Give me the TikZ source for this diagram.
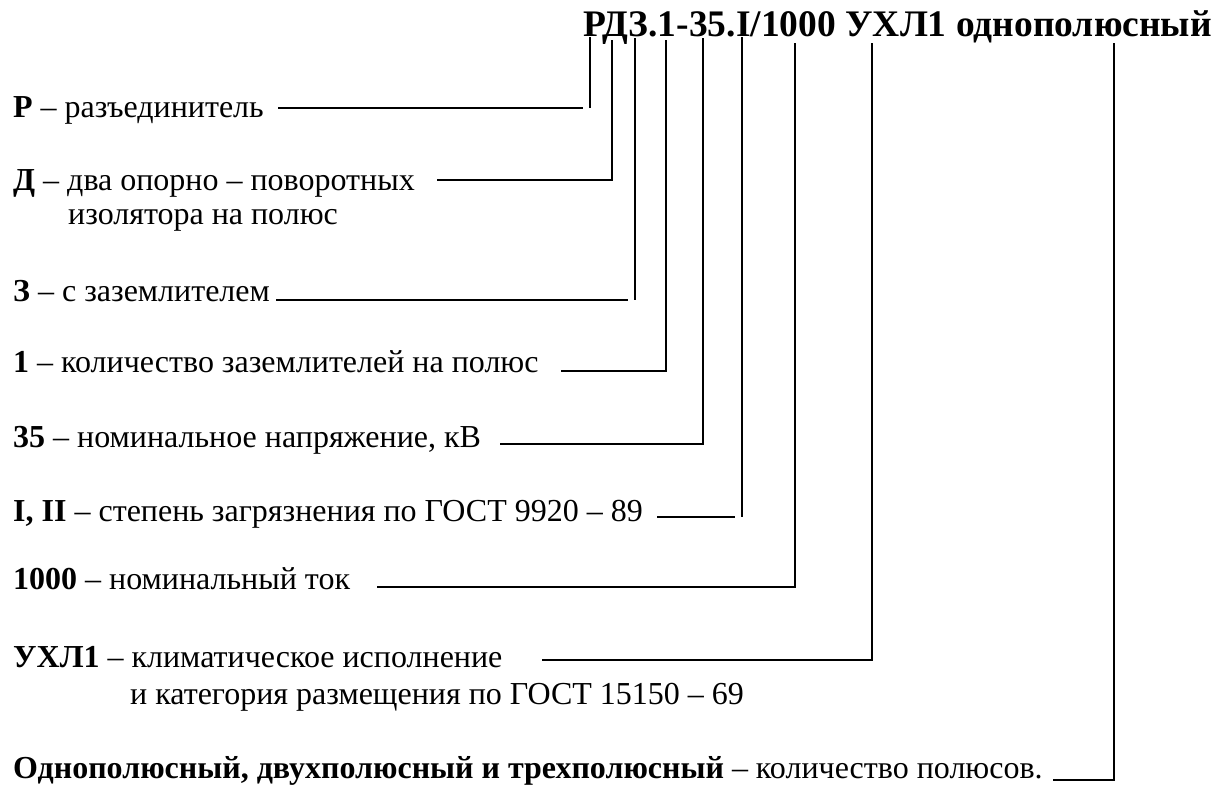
\documentclass[tikz,border=0pt]{standalone}
\usepackage{fontspec}
\setmainfont{Liberation Serif}[Ligatures=TeX]
\newfontfamily\timesfont{Liberation Serif}
\usetikzlibrary{calc}

\tikzset{
  entry/.style={anchor=base west, inner sep=0pt, font=\timesfont\fontsize{32}{34}\selectfont},
  title/.style={anchor=base east, inner sep=0pt, font=\timesfont\fontsize{37.5}{40}\selectfont\bfseries},
  lead/.style={black, line width=1.6pt}
}

\begin{document}
\begin{tikzpicture} [x=1pt, y=-1pt]
\useasboundingbox (0,0) rectangle (1225,787);

\node[title] (code) at (1212,36) {РДЗ.1-35.I/1000 УХЛ1 однополюсный};

\node[entry] (p) at (13,117) {\textbf{Р} – разъединитель};
\node[entry] (d) at (13,190) {\textbf{Д} – два опорно – поворотных};
\node[entry] (d2) at (68,224) {изолятора на полюс};
\node[entry] (z) at (13,301) {\textbf{З} – с заземлителем};
\node[entry] (one) at (13,372) {\textbf{1} – количество заземлителей на полюс};
\node[entry] (kv) at (13,447) {\textbf{35} – номинальное напряжение, кВ};
\node[entry] (gost) at (13,521) {\textbf{I, II} – степень загрязнения по ГОСТ 9920 – 89};
\node[entry] (amp) at (13,589) {\textbf{1000} – номинальный ток};
\node[entry] (uhl) at (13,667) {\textbf{УХЛ1} – климатическое исполнение};
\node[entry] (uhl2) at (130,704) {и категория размещения по ГОСТ 15150 – 69};
\node[entry] (pol) at (13,778) {\textbf{Однополюсный, двухполюсный и трехполюсный} – количество полюсов.};

% feet under the code letters
\coordinate (tP) at (590,37);
\coordinate (tD) at (612,40);
\coordinate (tZ) at (635,38);
\coordinate (tOne) at (666,40);
\coordinate (tKv) at (703,38);
\coordinate (tGost) at (742,37);
\coordinate (tAmp) at (795,43);
\coordinate (tUhl) at (872,43);
\coordinate (tPol) at (1114,43);

% leaders: start and (for the open ones) end
\coordinate (sP) at (278,108);
\coordinate (eP) at (583,108);
\coordinate (sD) at (437,180);
\coordinate (sZ) at (276,300);
\coordinate (eZ) at (628,300);
\coordinate (sOne) at (561,371);
\coordinate (sKv) at (500,444);
\coordinate (sGost) at (657,517);
\coordinate (eGost) at (735,517);
\coordinate (sAmp) at (377,587);
\coordinate (sUhl) at (542,660);
\coordinate (sPol) at (1053,780);

\draw[lead] (sP) -- (eP);
\draw[lead] (tP) -- (tP |- eP);
\draw[lead] (sD) -| (tD);
\draw[lead] (sZ) -- (eZ);
\draw[lead] (tZ) -- (tZ |- eZ);
\draw[lead] (sOne) -| (tOne);
\draw[lead] (sKv) -| (tKv);
\draw[lead] (sGost) -- (eGost);
\draw[lead] (tGost) -- (tGost |- eGost);
\draw[lead] (sAmp) -| (tAmp);
\draw[lead] (sUhl) -| (tUhl);
\draw[lead] (sPol) -| (tPol);

\end{tikzpicture}
\end{document}
